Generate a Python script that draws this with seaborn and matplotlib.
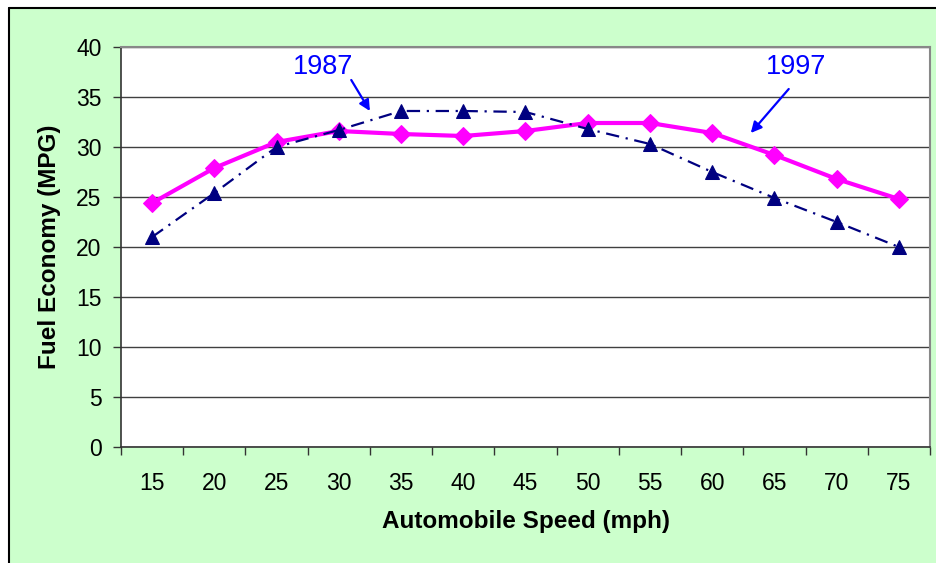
import matplotlib
matplotlib.use("Agg")
import matplotlib.pyplot as plt
from matplotlib.patches import Rectangle
from matplotlib.lines import Line2D
from matplotlib.ticker import FixedLocator, NullFormatter
import seaborn as sns
import pandas as pd

# Fuel economy by automobile speed, two model years
speeds = [15, 20, 25, 30, 35, 40, 45, 50, 55, 60, 65, 70, 75]
mpg_1997 = [24.4, 27.9, 30.5, 31.6, 31.3, 31.1, 31.6, 32.4, 32.4, 31.4, 29.2, 26.8, 24.8]
mpg_1987 = [21.0, 25.4, 30.0, 31.7, 33.6, 33.6, 33.5, 31.8, 30.3, 27.5, 24.9, 22.5, 20.0]
y_ticks = [0, 5, 10, 15, 20, 25, 30, 35, 40]

sns.set_theme(style="white")
plt.rcParams["font.family"] = ["Liberation Sans", "DejaVu Sans"]
plt.rcParams["text.color"] = "black"
plt.rcParams["axes.labelcolor"] = "black"

W, H, DPI = 937, 563, 100
fig = plt.figure(figsize=(W / DPI, H / DPI), dpi=DPI, facecolor="white")

# Chart area: light green panel with a black frame on top and left
fig.patches.append(Rectangle((9 / W, -0.1), 1.2, 1.1 - 8 / H, transform=fig.transFigure,
                             facecolor="#CCFFCC", edgecolor="none", zorder=-5))
fig.lines.append(Line2D([9 / W, 9 / W], [0, 1 - 8 / H], transform=fig.transFigure,
                        color="black", lw=1.5, zorder=-4))
fig.lines.append(Line2D([9 / W, 1], [1 - 8 / H, 1 - 8 / H], transform=fig.transFigure,
                        color="black", lw=1.5, zorder=-4))

ax = fig.add_axes([121 / W, 1 - 447 / H, (930 - 121) / W, (447 - 47) / H])
ax.set_zorder(1)
ax.set_facecolor("white")

df_97 = pd.DataFrame({"speed": speeds, "mpg": mpg_1997})
df_87 = pd.DataFrame({"speed": speeds, "mpg": mpg_1987})

sns.lineplot(data=df_97, x="speed", y="mpg", ax=ax, color="#FF00FF", lw=3,
             marker="D", markersize=9, markeredgecolor="#FF00FF", zorder=3)
sns.lineplot(data=df_87, x="speed", y="mpg", ax=ax, color="#000080", lw=1.6,
             linestyle=(0, (6, 3, 1, 3)),
             marker="^", markersize=10.5, markeredgecolor="#000080", zorder=4)

ax.set_xlim(12.5, 77.5)
ax.set_ylim(0, 40)

# Category-style x axis: ticks between speeds, labels centred on them
ax.xaxis.set_major_locator(FixedLocator([s - 2.5 for s in speeds] + [77.5]))
ax.xaxis.set_major_formatter(NullFormatter())
ax.xaxis.set_minor_locator(FixedLocator(speeds))
ax.set_xticklabels([str(s) for s in speeds], minor=True)
ax.tick_params(axis="x", which="major", direction="out", length=6, width=1,
               color="#333333", bottom=True)
ax.tick_params(axis="x", which="minor", length=0, pad=18, labelsize=16.5,
               labelcolor="black", bottom=True)

ax.set_yticks(y_ticks)
ax.set_yticklabels([str(v) for v in y_ticks])
ax.tick_params(axis="y", direction="out", length=6, width=1, color="#333333",
               pad=8, labelsize=16.5, labelcolor="black", left=True)

ax.grid(axis="y", color="#404040", lw=1)
ax.grid(axis="x", visible=False)
for side in ("left", "bottom"):
    ax.spines[side].set_color("#333333")
    ax.spines[side].set_linewidth(1.2)
for side in ("top", "right"):
    ax.spines[side].set_color("#888888")
    ax.spines[side].set_linewidth(1.5)

ax.set_xlabel("Automobile Speed (mph)", fontsize=17.5, fontweight="bold", color="black")
ax.set_ylabel("Fuel Economy (MPG)", fontsize=17.5, fontweight="bold", color="black")
ax.xaxis.set_label_coords(0.5, -0.158)
ax.yaxis.set_label_coords(-0.074, 0.5)

# Series call-outs
ax.text(28.75, 38.0, "1987", color="#0000FF", fontsize=19.5, ha="center", va="center")
ax.annotate("", xy=(32.5, 33.6), xytext=(31.0, 36.7),
            arrowprops=dict(arrowstyle="-|>", color="#0000FF", lw=1.6, mutation_scale=16,
                            shrinkA=0, shrinkB=0))
ax.text(66.7, 38.0, "1997", color="#0000FF", fontsize=19.5, ha="center", va="center")
ax.annotate("", xy=(63.1, 31.4), xytext=(66.15, 35.8),
            arrowprops=dict(arrowstyle="-|>", color="#0000FF", lw=1.6, mutation_scale=16,
                            shrinkA=0, shrinkB=0))

fig.savefig("out.png", dpi=DPI, facecolor=fig.get_facecolor())
